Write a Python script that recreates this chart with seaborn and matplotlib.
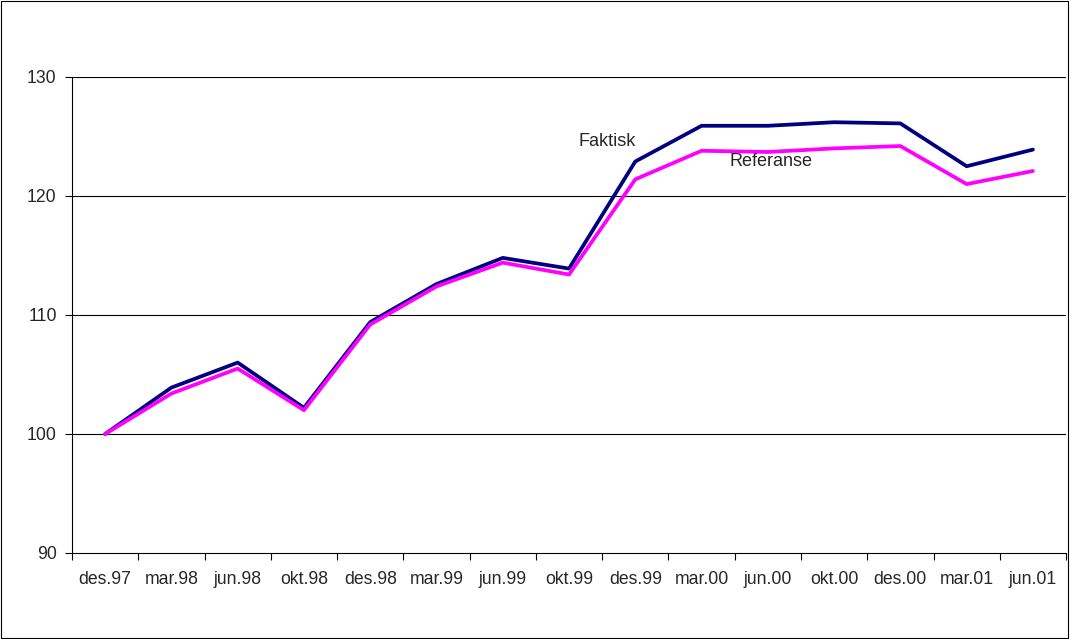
import matplotlib
matplotlib.use("Agg")
import matplotlib.pyplot as plt
import seaborn as sns
import pandas as pd
import numpy as np
from matplotlib.ticker import FixedLocator, NullFormatter

categories = ["des.97", "mar.98", "jun.98", "okt.98", "des.98", "mar.99", "jun.99",
              "okt.99", "des.99", "mar.00", "jun.00", "okt.00", "des.00", "mar.01", "jun.01"]
faktisk = [100.0, 103.9, 106.0, 102.2, 109.4, 112.6, 114.8, 113.9, 122.9, 125.9,
           125.9, 126.2, 126.1, 122.5, 123.9]
referanse = [100.0, 103.4, 105.5, 102.0, 109.2, 112.4, 114.4, 113.4, 121.4, 123.8,
             123.7, 124.0, 124.2, 121.0, 122.1]
y_ticks = [90, 100, 110, 120, 130]

sns.set_style("white")
plt.rcParams['font.family'] = ['Liberation Sans', 'DejaVu Sans']

df = pd.DataFrame({
    "pos": list(range(len(categories))) * 2,
    "value": faktisk + referanse,
    "serie": ["Faktisk"] * len(categories) + ["Referanse"] * len(categories),
})

fig = plt.figure(figsize=(10.70, 6.39), dpi=100)
ax = fig.add_axes([0.0673, 0.1346, 0.9290, 0.7449])

for yv in y_ticks[1:]:
    ax.axhline(yv, color="black", lw=0.8, zorder=1)

sns.lineplot(data=df, x="pos", y="value", hue="serie",
             palette={"Faktisk": "#000080", "Referanse": "#FF00FF"},
             linewidth=2.7, legend=False, ax=ax, zorder=3, sort=False)

fs = 12.7
n = len(categories)
ax.set_xlim(-0.5, n - 0.5)
ax.set_ylim(90, 130)
ax.set_yticks(y_ticks)
ax.set_yticklabels([str(v) for v in y_ticks], fontsize=fs)
ax.set_xticks(range(n))
ax.set_xticklabels(categories, fontsize=fs)
ax.xaxis.set_minor_locator(FixedLocator(np.arange(-0.5, n, 1.0)))
ax.xaxis.set_minor_formatter(NullFormatter())
ax.tick_params(axis="x", which="both", bottom=True)
ax.tick_params(axis="y", which="both", left=True)
ax.tick_params(axis="x", which="major", length=0, pad=13)
ax.tick_params(axis="x", which="minor", length=5, width=0.8, color="black", direction="out")
ax.tick_params(axis="y", which="major", length=5, width=0.8, color="black", direction="out", pad=6)
ax.set_xlabel("")
ax.set_ylabel("")

for s in ["top", "right"]:
    ax.spines[s].set_visible(False)
for s in ["left", "bottom"]:
    ax.spines[s].set_color("black")
    ax.spines[s].set_linewidth(0.8)

ax.text(7.57, 124.6, "Faktisk", fontsize=13, ha="center", va="center")
ax.text(10.05, 122.9, "Referanse", fontsize=13, ha="center", va="center")

fig.patches.append(plt.Rectangle((0.001, 0.002), 0.997, 0.996, transform=fig.transFigure,
                                 fill=False, edgecolor="black", lw=0.8))

fig.savefig("out.png", dpi=100, facecolor="white")
